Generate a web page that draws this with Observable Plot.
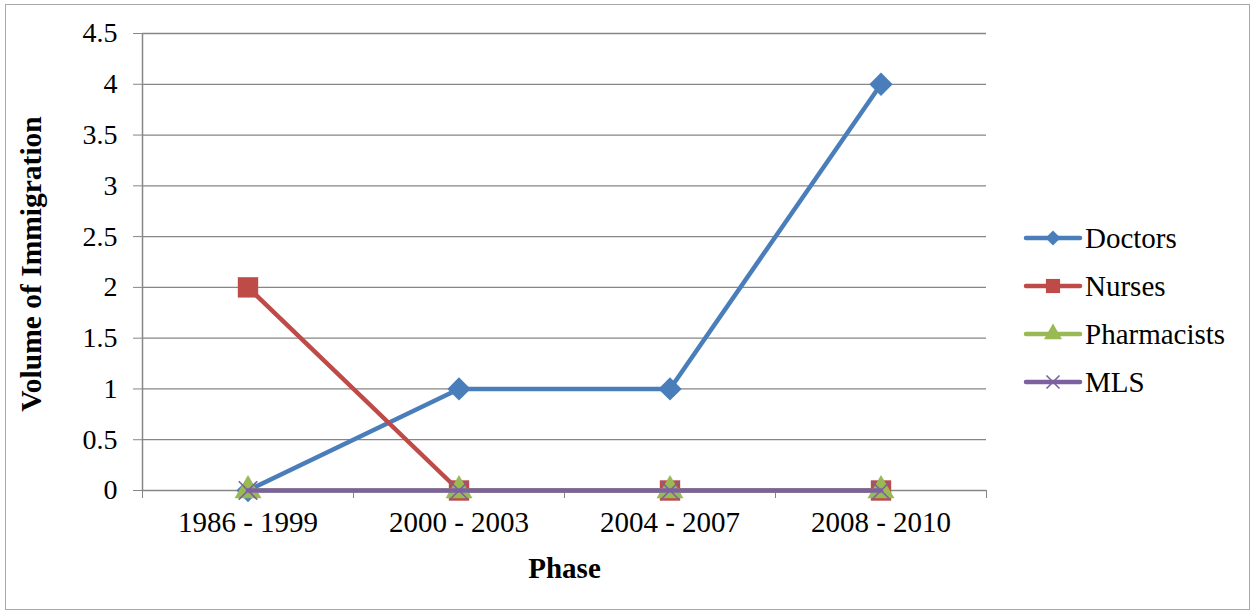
<!DOCTYPE html>
<html><head><meta charset="utf-8">
<script src="https://cdn.jsdelivr.net/npm/d3@7"></script>
<script src="https://cdn.jsdelivr.net/npm/@observablehq/plot@0.6"></script>
<style>
html,body{margin:0;padding:0;background:#fff;}
#wrap{position:relative;width:1252px;height:612px;overflow:hidden;font-family:"Liberation Serif","Times New Roman",serif;}
#border{position:absolute;left:5px;top:4px;width:1245px;height:606px;border:1px solid #a8a8a8;box-sizing:border-box;pointer-events:none;}
#chart svg, #chart svg text{font-family:"Liberation Serif","Times New Roman",serif !important;}
#legend{position:absolute;left:1023px;top:214px;font-size:29px;color:#000;}
#legend .item{display:flex;align-items:center;height:48px;}
#legend span{font-family:"Liberation Serif","Times New Roman",serif !important;}
#legend svg{display:block;margin-right:2px;}
#ytitle{position:absolute;left:31px;top:264px;transform:translate(-50%,-50%) rotate(-90deg);white-space:nowrap;font-weight:bold;font-size:29.5px;font-family:"Liberation Serif","Times New Roman",serif;}
</style></head>
<body><div id="wrap"><div id="border"></div><div id="chart"></div><div id="legend"></div><div id="ytitle"></div></div>
<script>
const phases = ["1986 - 1999", "2000 - 2003", "2004 - 2007", "2008 - 2010"];
const seriesNames = ["Doctors", "Nurses", "Pharmacists", "MLS"];
const doctors = [0, 1, 1, 4];
const nurses = [2, 0, 0, 0];
const pharmacists = [0, 0, 0, 0];
const mls = [0, 0, 0, 0];
const yTicks = [0, 0.5, 1, 1.5, 2, 2.5, 3, 3.5, 4, 4.5];
const xTitle = "Phase";
const yTitle = "Volume of Immigration";

const colors = ["#4A7EBB", "#BE4B48", "#98B954", "#7D60A0"];
const symbols = ["diamond2", "square", "triangle", "times"];
const sizes = [10.5, 11.5, 10, 8.5];
const valuesBySeries = [doctors, nurses, pharmacists, mls];

const rows = [];
seriesNames.forEach((s, si) => valuesBySeries[si].forEach((v, i) => rows.push({series: s, si, i, phase: phases[i], value: v})));

const bounds = d3.range(phases.length + 1).map(k => k - 0.5);

const marks = [
  Plot.ruleY(yTicks, {y: d => d, stroke: "#868686", strokeWidth: 1.3}),
  Plot.axisY({ticks: yTicks, tickSize: 9, tickPadding: 16, fontSize: 28, label: null, stroke: "#868686", tickFormat: d => String(d)}),
  Plot.ruleX([-0.5], {stroke: "#868686", strokeWidth: 1.5}),
  Plot.axisX({ticks: bounds, tickSize: 8, tickFormat: () => "", label: null, stroke: "#868686"}),
  Plot.axisX({ticks: d3.range(phases.length), tickSize: 0, tickPadding: 21, fontSize: 29, tickFormat: i => phases[i], label: null}),
  Plot.text([xTitle], {frameAnchor: "bottom", dy: 87, text: d => d, fontSize: 29, fontWeight: "bold"})
];
seriesNames.forEach((s, si) => {
  const data = rows.filter(r => r.si === si);
  marks.push(Plot.line(data, {x: "i", y: "value", stroke: colors[si], strokeWidth: 4.5, strokeLinejoin: "round"}));
  if (symbols[si] === "times") {
    marks.push(Plot.dot(data, {x: "i", y: "value", symbol: "times", r: sizes[si], stroke: colors[si], strokeWidth: 1.6}));
  } else {
    marks.push(Plot.dot(data, {x: "i", y: "value", symbol: symbols[si], r: sizes[si], fill: colors[si], stroke: null}));
  }
});

const chart = Plot.plot({
  width: 1252, height: 612,
  marginLeft: 142, marginRight: 266, marginTop: 33, marginBottom: 122,
  style: {color: "#000", background: "transparent", overflow: "visible"},
  x: {type: "linear", domain: [-0.5, phases.length - 0.5]},
  y: {domain: [0, 4.5]},
  marks
});
document.getElementById("chart").appendChild(chart);
document.getElementById("ytitle").textContent = yTitle;

// legend
const leg = d3.select("#legend");
seriesNames.forEach((s, si) => {
  const item = leg.append("div").attr("class", "item");
  const svg = item.append("svg").attr("width", 60).attr("height", 24);
  svg.append("line").attr("x1", 3).attr("x2", 57).attr("y1", 12).attr("y2", 12)
    .attr("stroke", colors[si]).attr("stroke-width", 4.5).attr("stroke-linecap", "round");
  const g = svg.append("g").attr("transform", "translate(30,12)");
  if (symbols[si] === "diamond2") {
    g.append("path").attr("d", "M0,-7.5L7.5,0L0,7.5L-7.5,0Z").attr("fill", colors[si]);
  } else if (symbols[si] === "square") {
    g.append("path").attr("d", d3.symbol(d3.symbolSquare, 200)()).attr("fill", colors[si]);
  } else if (symbols[si] === "triangle") {
    g.append("path").attr("d", d3.symbol(d3.symbolTriangle, 140)()).attr("fill", colors[si]);
  } else {
    g.append("path").attr("d", "M-6.5,-6.5L6.5,6.5M-6.5,6.5L6.5,-6.5").attr("stroke", colors[si]).attr("stroke-width", 1.6);
  }
  item.append("span").text(s);
});
</script></body></html>
